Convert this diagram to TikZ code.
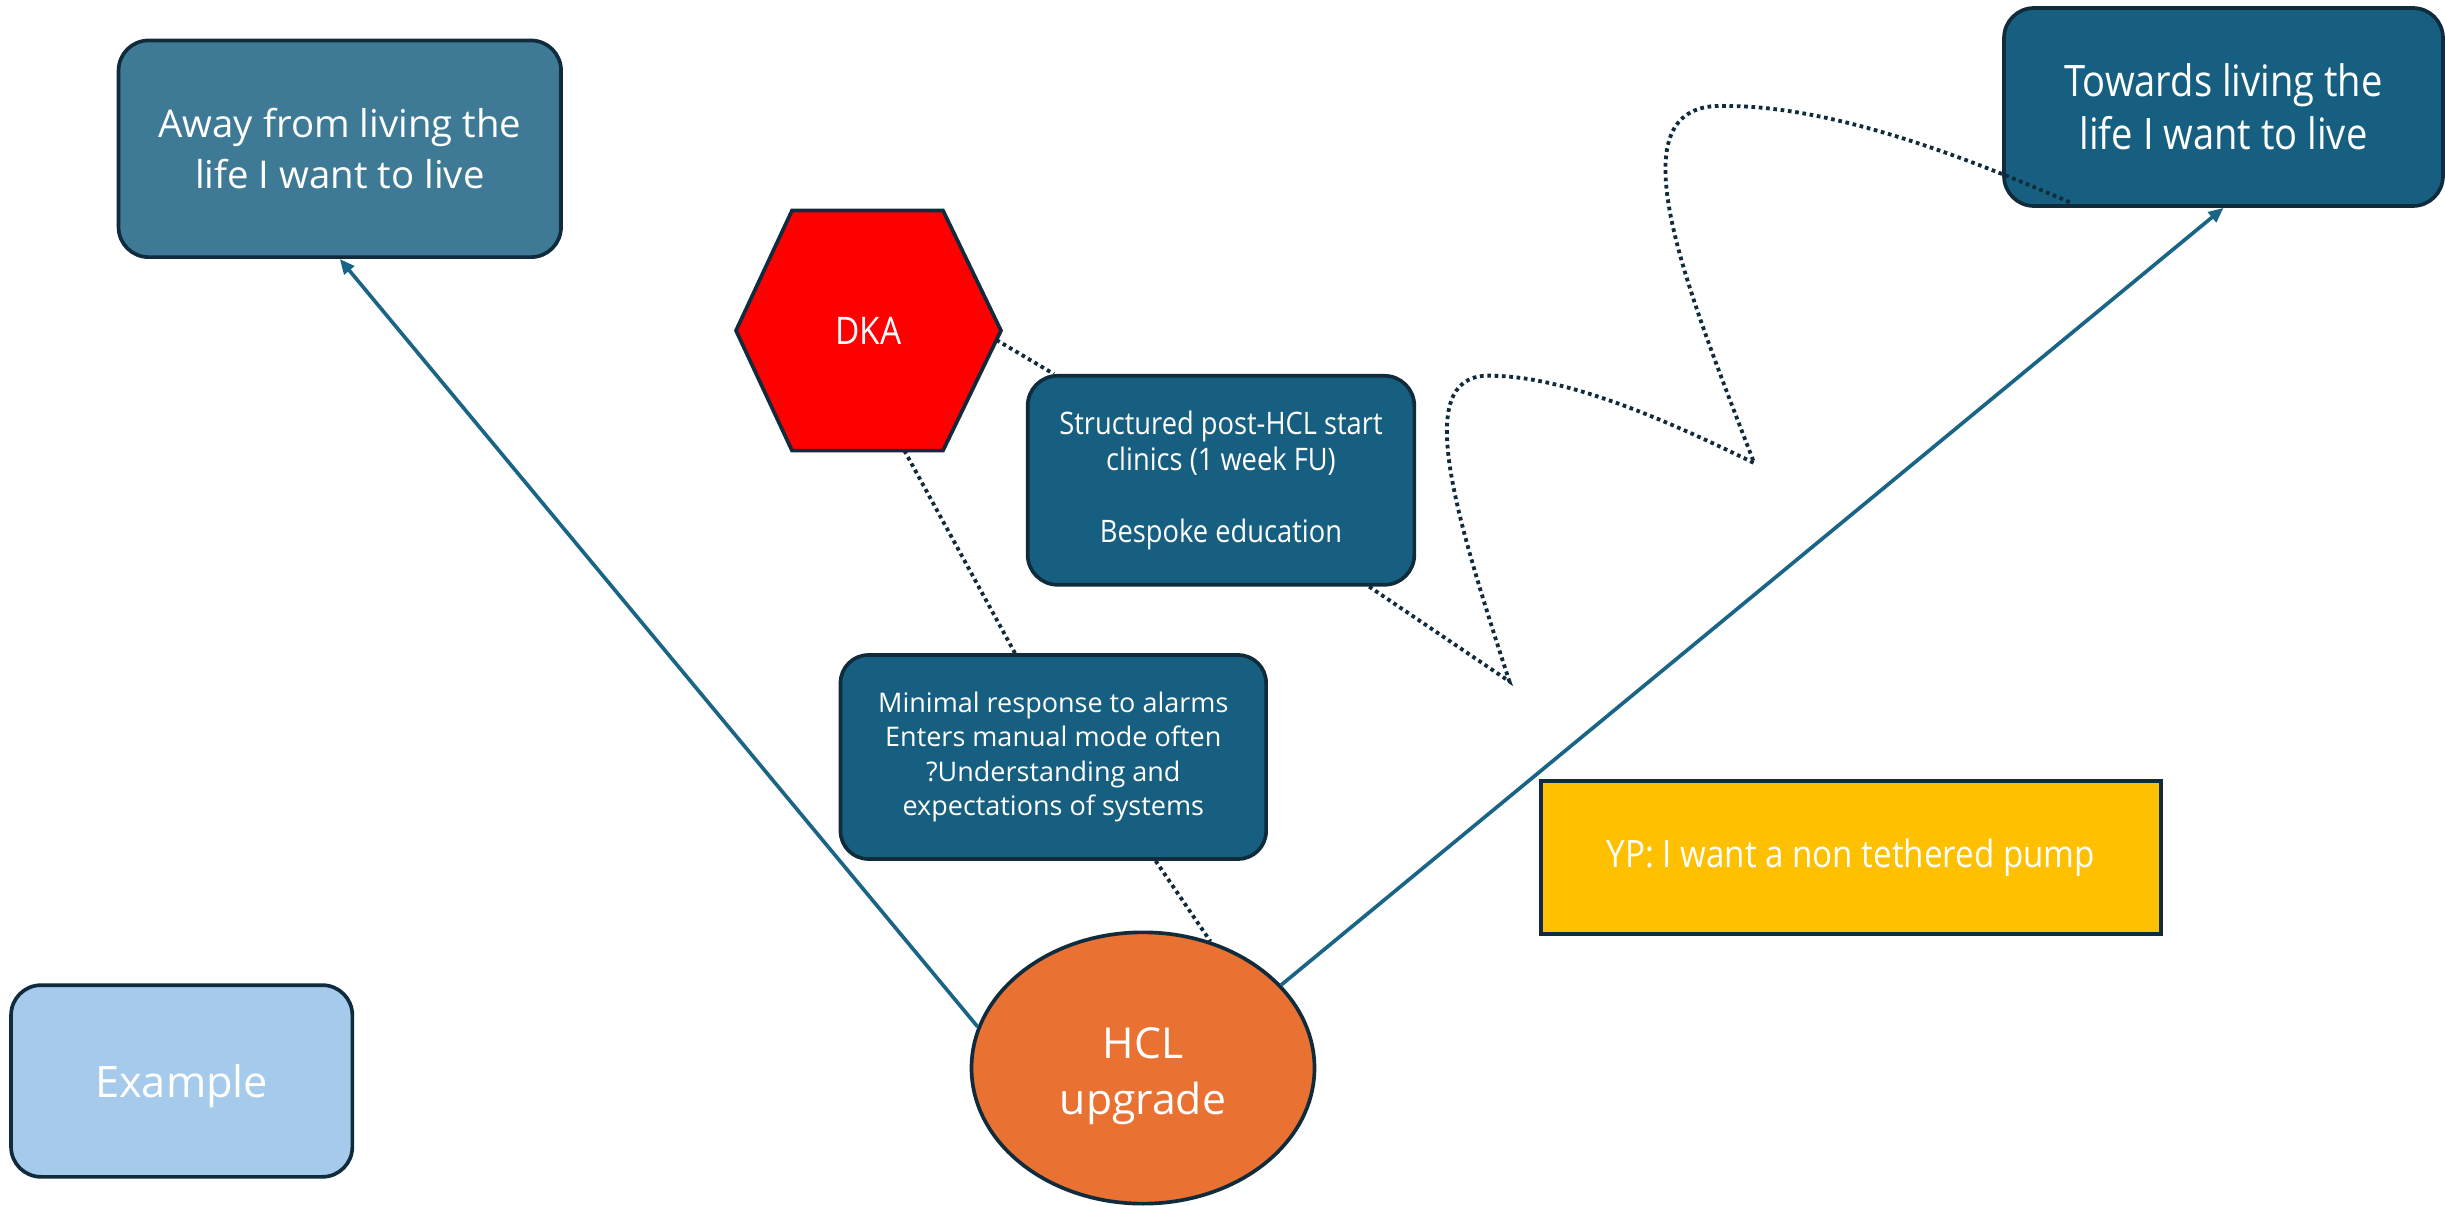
\documentclass[tikz,border=0pt]{standalone}
\usepackage{fontspec}
\setmainfont{Open Sans}
\newfontfamily\narrowfont[FakeStretch=0.88]{Open Sans}
\usetikzlibrary{arrows.meta,calc,shapes.geometric}
\definecolor{bdr}{HTML}{0F2B3C}
\definecolor{tealA}{HTML}{3E7A96}
\definecolor{tealB}{HTML}{175F80}
\definecolor{arr}{HTML}{1A6586}
\definecolor{orng}{HTML}{E97132}
\definecolor{yel}{HTML}{FFC000}
\definecolor{lblue}{HTML}{A6CAEC}
\tikzset{
  box/.style={draw=bdr, line width=1.1pt, rounded corners=9pt, text=white, align=center, inner sep=0pt},
  flow/.style={draw=arr, line width=1.1pt, -{Triangle[length=4.5pt,width=3.8pt]}},
  dots/.style={draw=bdr, line width=1.15pt, dash pattern=on 1.1pt off 1.1pt},
}
\begin{document}
\begin{tikzpicture}[x=0.3pt,y=-0.3pt]
\useasboundingbox[fill=white] (0,0) rectangle (2445,1206);

% nodes
\node[box, fill=tealA, minimum width=132.75pt, minimum height=65pt, font=\fontsize{11.5}{15.4}\selectfont]
  (away) at (339.8,148.8) {Away from living the\\life I want to live};
\node[box, fill=tealB, minimum width=131.7pt, minimum height=59.4pt, font=\narrowfont\fontsize{13}{15.9}\selectfont]
  (towards) at (2223.5,107) {Towards living the\\life I want to live};
\node[box, fill=tealB, minimum width=116pt, minimum height=62.7pt, rounded corners=9pt, font=\narrowfont\fontsize{9.3}{10.8}\selectfont]
  (str) at (1221,480.3) {Structured post-HCL start\\clinics (1 week FU)\\[10.8pt]Bespoke education};
\node[box, fill=tealB, minimum width=127.7pt, minimum height=61.2pt, rounded corners=8.4pt, font=\fontsize{8.1}{10.3}\selectfont]
  (minr) at (1053.3,757) {Minimal response to alarms\\Enters manual mode often\\?Understanding and\\expectations of systems};
\node[ellipse, draw=bdr, line width=1.1pt, fill=orng, minimum width=102.9pt, minimum height=81.4pt, inner sep=0pt,
  label={[text=white, align=center, font=\fontsize{12.8}{16.8}\selectfont, yshift=-2.6pt]center:HCL\\upgrade}]
  (hcl) at (1143,1068) {};
\node[draw=bdr, line width=1.1pt, fill=yel, minimum width=186pt, minimum height=46pt, inner sep=0pt, text=white, font=\narrowfont\fontsize{11.3}{14}\selectfont]
  (yp) at (1850.8,857.5) {YP: I want a non tethered pump};
\node[box, fill=lblue, minimum width=102.4pt, minimum height=57.5pt, text depth=0pt, font=\fontsize{13}{16}\selectfont]
  (ex) at (181.7,1081) {Example};

% DKA hexagon
\coordinate (hTL) at (792,210.5);
\coordinate (hTR) at (943,210.5);
\coordinate (hR) at (1001,330.6);
\coordinate (hBR) at (943,450.6);
\coordinate (hBL) at (792,450.6);
\coordinate (hL) at (736,330.6);
\filldraw[draw=bdr, line width=1.1pt, fill=red] (hTL) -- (hTR) -- (hR) -- (hBR) -- (hBL) -- (hL) -- cycle;
\node[text=white, font=\narrowfont\fontsize{11.4}{14}\selectfont] (dka) at (868.5,330.6) {DKA};
\coordinate (dkaR) at (996.5,340);
\coordinate (dkaB) at (904.4,450.6);

% arrows
\draw[flow] (hcl.166.7) -- (away.south);
\draw[flow] (hcl.31.3) -- (towards.south);

% dotted connectors
\draw[dots] (dkaR) -- ([xshift=8.4pt]str.north west);
\draw[dots] (dkaB) -- ([xshift=-11.5pt]minr.north);
\draw[dots] ([xshift=30.7pt]minr.south) -- (hcl.62);

\coordinate (z1) at (1509.4,681.4);
\coordinate (z2) at (1754.2,463.1);
\coordinate (z3) at (2070.8,202.7);
\draw[dots] ([xshift=-14.1pt]str.south east) -- (z1)
  .. controls (1450.1,499) and (1412,370) .. (1494,375.8)
  .. controls (1574.9,377.4) and (1684,428.8) .. (z2)
  .. controls (1684,280.7) and (1610,100) .. (1726,106)
  .. controls (1840,106) and (1980.3,163.7) .. (z3);
\end{tikzpicture}
\end{document}
